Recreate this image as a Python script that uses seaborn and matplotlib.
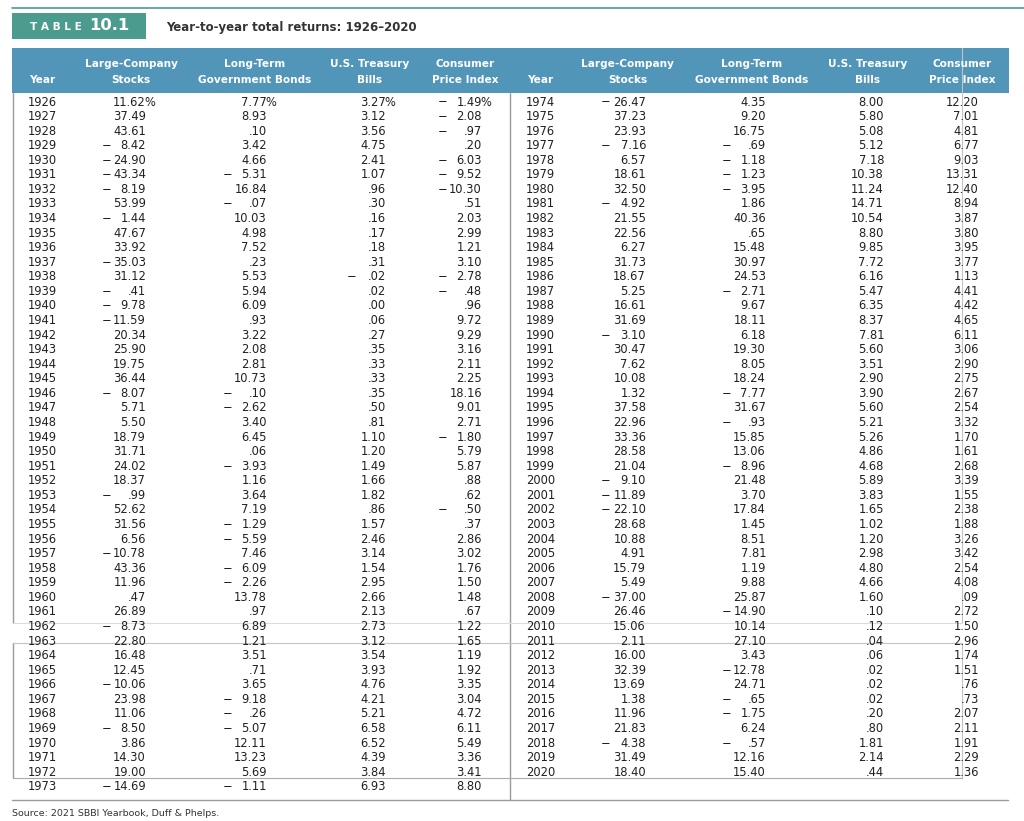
import numpy as np
import matplotlib.pyplot as plt
import seaborn as sns
from matplotlib.patches import Rectangle

sns.set_theme(style="white")
plt.rcParams['font.family'] = ['DejaVu Sans']

# Table data
years = list(range(1926, 2021))

stocks = [11.62, 37.49, 43.61, -8.42, -24.90, -43.34, -8.19, 53.99, -1.44, 47.67,
          33.92, -35.03, 31.12, -0.41, -9.78, -11.59, 20.34, 25.90, 19.75, 36.44,
          -8.07, 5.71, 5.50, 18.79, 31.71, 24.02, 18.37, -0.99, 52.62, 31.56,
          6.56, -10.78, 43.36, 11.96, 0.47, 26.89, -8.73, 22.80, 16.48, 12.45,
          -10.06, 23.98, 11.06, -8.50, 3.86, 14.30, 19.00, -14.69,
          -26.47, 37.23, 23.93, -7.16, 6.57, 18.61, 32.50, -4.92, 21.55, 22.56,
          6.27, 31.73, 18.67, 5.25, 16.61, 31.69, -3.10, 30.47, 7.62, 10.08,
          1.32, 37.58, 22.96, 33.36, 28.58, 21.04, -9.10, -11.89, -22.10, 28.68,
          10.88, 4.91, 15.79, 5.49, -37.00, 26.46, 15.06, 2.11, 16.00, 32.39,
          13.69, 1.38, 11.96, 21.83, -4.38, 31.49, 18.40]

bonds = [7.77, 8.93, 0.10, 3.42, 4.66, -5.31, 16.84, -0.07, 10.03, 4.98,
         7.52, 0.23, 5.53, 5.94, 6.09, 0.93, 3.22, 2.08, 2.81, 10.73,
         -0.10, -2.62, 3.40, 6.45, 0.06, -3.93, 1.16, 3.64, 7.19, -1.29,
         -5.59, 7.46, -6.09, -2.26, 13.78, 0.97, 6.89, 1.21, 3.51, 0.71,
         3.65, -9.18, -0.26, -5.07, 12.11, 13.23, 5.69, -1.11,
         4.35, 9.20, 16.75, -0.69, -1.18, -1.23, -3.95, 1.86, 40.36, 0.65,
         15.48, 30.97, 24.53, -2.71, 9.67, 18.11, 6.18, 19.30, 8.05, 18.24,
         -7.77, 31.67, -0.93, 15.85, 13.06, -8.96, 21.48, 3.70, 17.84, 1.45,
         8.51, 7.81, 1.19, 9.88, 25.87, -14.90, 10.14, 27.10, 3.43, -12.78,
         24.71, -0.65, -1.75, 6.24, -0.57, 12.16, 15.40]

bills = [3.27, 3.12, 3.56, 4.75, 2.41, 1.07, 0.96, 0.30, 0.16, 0.17,
         0.18, 0.31, -0.02, 0.02, 0.00, 0.06, 0.27, 0.35, 0.33, 0.33,
         0.35, 0.50, 0.81, 1.10, 1.20, 1.49, 1.66, 1.82, 0.86, 1.57,
         2.46, 3.14, 1.54, 2.95, 2.66, 2.13, 2.73, 3.12, 3.54, 3.93,
         4.76, 4.21, 5.21, 6.58, 6.52, 4.39, 3.84, 6.93,
         8.00, 5.80, 5.08, 5.12, 7.18, 10.38, 11.24, 14.71, 10.54, 8.80,
         9.85, 7.72, 6.16, 5.47, 6.35, 8.37, 7.81, 5.60, 3.51, 2.90,
         3.90, 5.60, 5.21, 5.26, 4.86, 4.68, 5.89, 3.83, 1.65, 1.02,
         1.20, 2.98, 4.80, 4.66, 1.60, 0.10, 0.12, 0.04, 0.06, 0.02,
         0.02, 0.02, 0.20, 0.80, 1.81, 2.14, 0.44]

cpi = [-1.49, -2.08, -0.97, 0.20, -6.03, -9.52, -10.30, 0.51, 2.03, 2.99,
       1.21, 3.10, -2.78, -0.48, 0.96, 9.72, 9.29, 3.16, 2.11, 2.25,
       18.16, 9.01, 2.71, -1.80, 5.79, 5.87, 0.88, 0.62, -0.50, 0.37,
       2.86, 3.02, 1.76, 1.50, 1.48, 0.67, 1.22, 1.65, 1.19, 1.92,
       3.35, 3.04, 4.72, 6.11, 5.49, 3.36, 3.41, 8.80,
       12.20, 7.01, 4.81, 6.77, 9.03, 13.31, 12.40, 8.94, 3.87, 3.80,
       3.95, 3.77, 1.13, 4.41, 4.42, 4.65, 6.11, 3.06, 2.90, 2.75,
       2.67, 2.54, 3.32, 1.70, 1.61, 2.68, 3.39, 1.55, 2.38, 1.88,
       3.26, 3.42, 2.54, 4.08, 0.09, 2.72, 1.50, 2.96, 1.74, 1.51,
       0.76, 0.73, 2.07, 2.11, 1.91, 2.29, 1.36]

headers = ["Year", "Large-Company\nStocks", "Long-Term\nGovernment Bonds",
           "U.S. Treasury\nBills", "Consumer\nPrice Index"]
title = "Year-to-year total returns: 1926\u20132020"
source = "Source: 2021 SBBI Yearbook, Duff & Phelps."

split = 48  # rows in the left half

# layout (pixel coordinates)
W, H = 1024, 821
teal = "#4b9b8e"
blue = "#5196b9"
txt = "#231f20"
row0, dy = 102, 14.57
fs = 8.3
halves = [
    dict(year_x=28, head_x=[42, 131, 255, 370, 465],
         num_x=[146, 267, 386, 482], minus_x=[107, 228, 352, 443]),
    dict(year_x=526, head_x=[540, 628, 752, 868, 962],
         num_x=[646, 766, 884, 979], minus_x=[606, 727, 849, 943]),
]


def fmt(v):
    s = f"{abs(v):.2f}"
    if s.startswith("0"):
        s = s[1:]
    return s


fig = plt.figure(figsize=(W / 100, H / 100), dpi=100)
ax = fig.add_axes([0, 0, 1, 1])
ax.set_xlim(0, W)
ax.set_ylim(H, 0)
ax.axis("off")

# title block
ax.plot([12, 1024], [8, 8], color=teal, lw=1.2)
ax.add_patch(Rectangle((12, 13), 134, 26, color=teal, lw=0))
ax.text(30, 26.5, "T A B L E", color="white", fontsize=7.6, fontweight="bold",
        va="center", ha="left")
ax.text(89, 26, "10.1", color="white", fontsize=11.8, fontweight="bold",
        va="center", ha="left")
ax.text(166, 28, title, color="#333333", fontsize=8.5, fontweight="bold",
        va="center", ha="left")

# header bar
ax.add_patch(Rectangle((12, 48), 997, 45, color=blue, lw=0))
hfs = 7.6
for h in halves:
    for x, lab in zip(h["head_x"], headers):
        lines = lab.split("\n")
        if len(lines) == 1:
            ax.text(x, 80, lines[0], color="white", fontsize=hfs,
                    fontweight="bold", ha="center", va="center")
        else:
            ax.text(x, 64, lines[0], color="white", fontsize=hfs,
                    fontweight="bold", ha="center", va="center")
            ax.text(x, 80, lines[1], color="white", fontsize=hfs,
                    fontweight="bold", ha="center", va="center")

# body rows
cols = [stocks, bonds, bills, cpi]
for i, yr in enumerate(years):
    h = halves[0] if i < split else halves[1]
    r = i if i < split else i - split
    y = row0 + r * dy
    ax.text(h["year_x"], y, str(yr), color=txt, fontsize=fs,
            ha="left", va="center")
    for c, col in enumerate(cols):
        v = col[i]
        ax.text(h["num_x"][c], y, fmt(v), color=txt, fontsize=fs,
                ha="right", va="center")
        if i == 0:
            ax.text(h["num_x"][c] - 1.5, y, "%", color=txt, fontsize=fs,
                    ha="left", va="center")
        if v < 0:
            ax.text(h["minus_x"][c], y, "\u2212", color=txt, fontsize=fs,
                    ha="center", va="center")

# rules (including the faint seams of the printed page)
grey = "#9a9a9a"
light = "#c4c4c4"
ax.plot([13, 13], [93, 623], color=grey, lw=1)
ax.plot([13, 13], [643, 778], color=grey, lw=1)
ax.plot([510, 510], [93, 800], color=grey, lw=1)
ax.plot([962, 962], [48, 623], color=light, lw=0.8)
ax.plot([962, 962], [643, 778], color=light, lw=0.8)
ax.plot([13, 962], [623, 623], color="#dcdcdc", lw=0.8)
ax.plot([13, 962], [643, 643], color=light, lw=0.8)
ax.plot([13, 962], [778, 778], color="#aaaaaa", lw=0.8)
ax.plot([12, 1008], [800, 800], color=grey, lw=1)

ax.text(12, 813, source, color="#333333", fontsize=6.8, ha="left", va="center")

plt.savefig("out.png", dpi=100)
